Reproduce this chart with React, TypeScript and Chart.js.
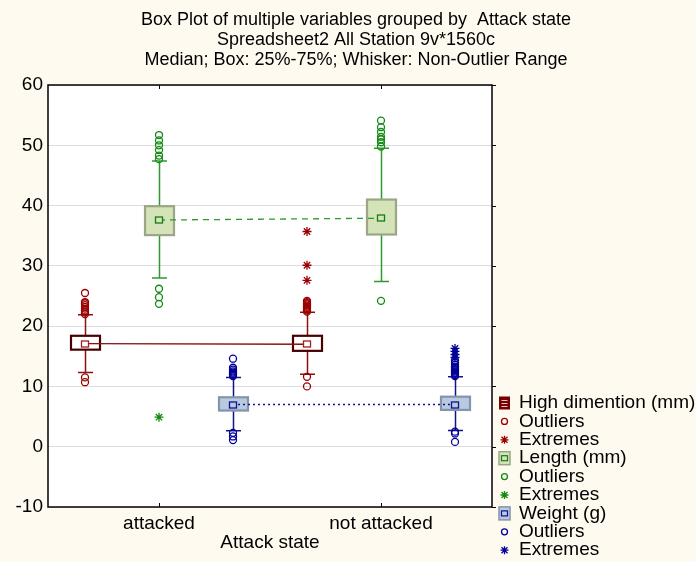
import { useEffect, useRef } from 'react';
import { Chart, registerables } from 'chart.js';

Chart.register(...registerables);

// Grouping variable
const groups = ['attacked', 'not attacked'];
const seriesNames = ['High dimention (mm)', 'Length (mm)', 'Weight (g)'];
const yTicks = [-10, 0, 10, 20, 30, 40, 50, 60];

// High dimention (mm): [attacked, not attacked]
const highMedian = [17.1, 17.0];
const highQ1 = [16.1, 15.9];
const highQ3 = [18.4, 18.4];
const highMin = [12.3, 12.0];
const highMax = [21.9, 22.3];
const highOutliers = [
  [22.0, 22.3, 22.6, 22.9, 23.2, 23.5, 23.8, 24.0, 25.5, 11.5, 10.7],
  [22.4, 22.6, 22.8, 23.0, 23.2, 23.4, 23.6, 23.8, 24.0, 24.2, 11.6, 10.0],
];
const highExtremes = [[], [35.7, 30.1, 27.6]];

// Length (mm)
const lengthMedian = [37.6, 37.9];
const lengthQ1 = [35.1, 35.2];
const lengthQ3 = [39.9, 41.0];
const lengthMin = [28.0, 27.4];
const lengthMax = [47.4, 49.5];
const lengthOutliers = [
  [47.7, 48.3, 49.2, 50.0, 50.8, 51.7, 26.2, 24.8, 23.7],
  [49.8, 50.5, 51.0, 51.4, 52.2, 53.0, 54.1, 24.2],
];
const lengthExtremes = [[4.9], []];

// Weight (g)
const weightMedian = [7.0, 7.0];
const weightQ1 = [6.0, 6.1];
const weightQ3 = [8.2, 8.3];
const weightMin = [2.65, 2.7];
const weightMax = [11.5, 11.6];
const weightOutliers = [
  [11.7, 11.9, 12.1, 12.3, 12.5, 12.8, 13.1, 14.6, 2.3, 1.7, 1.1],
  [11.7, 11.9, 12.1, 12.3, 12.5, 12.7, 12.9, 13.1, 13.3, 13.6, 13.9, 14.3, 2.5, 2.2, 0.8],
];
const weightExtremes = [[], [14.8, 15.3, 15.8, 16.3]];

const FONT = '"Liberation Sans", Arial, sans-serif';

type Style = {
  line: string;
  boxFill: string;
  boxStroke: string;
  median: string;
  point: string;
  dash: number[];
};

const styles: Style[] = [
  { line: '#8b1010', boxFill: '#ffffff', boxStroke: '#4a0000', median: '#a02020', point: '#9a0000', dash: [] },
  { line: '#2e9a2e', boxFill: '#d5e3b9', boxStroke: '#9aa686', median: '#128012', point: '#108a10', dash: [6, 5] },
  { line: '#14148a', boxFill: '#b8cae0', boxStroke: '#8394ab', median: '#101090', point: '#000098', dash: [2, 3] },
];

const stats = [
  { med: highMedian, q1: highQ1, q3: highQ3, lo: highMin, hi: highMax, out: highOutliers, ext: highExtremes },
  { med: lengthMedian, q1: lengthQ1, q3: lengthQ3, lo: lengthMin, hi: lengthMax, out: lengthOutliers, ext: lengthExtremes },
  { med: weightMedian, q1: weightQ1, q3: weightQ3, lo: weightMin, hi: weightMax, out: weightOutliers, ext: weightExtremes },
];

// each group has three slots, one per variable
const slot = (g: number, s: number) => g * 3 + s + 0.5;
const groupTicks = groups.map((_, g) => slot(g, 1));

const BOX_W = 29;
const CAP_W = 15;

const backgroundPlugin = {
  id: 'background',
  beforeDraw(chart: any) {
    const { ctx, chartArea: a } = chart;
    ctx.save();
    ctx.fillStyle = '#fffaf0';
    ctx.fillRect(0, 0, chart.width, chart.height);
    ctx.fillStyle = '#ffffff';
    ctx.fillRect(a.left, a.top, a.right - a.left, a.bottom - a.top);
    ctx.restore();
  },
};

const boxPlugin = {
  id: 'boxes',
  beforeDatasetsDraw(chart: any) {
    const { ctx } = chart;
    const xs = chart.scales.x;
    const ys = chart.scales.y;
    ctx.save();
    stats.forEach((st, s) => {
      const sty = styles[s];
      groups.forEach((_, g) => {
        const x = Math.round(xs.getPixelForValue(slot(g, s))) + 0.5;
        const yLo = ys.getPixelForValue(st.lo[g]);
        const yHi = ys.getPixelForValue(st.hi[g]);
        const y1 = ys.getPixelForValue(st.q1[g]);
        const y3 = ys.getPixelForValue(st.q3[g]);
        ctx.strokeStyle = sty.line;
        ctx.lineWidth = 1.5;
        ctx.beginPath();
        ctx.moveTo(x, yLo);
        ctx.lineTo(x, yHi);
        ctx.moveTo(x - CAP_W / 2, yLo);
        ctx.lineTo(x + CAP_W / 2, yLo);
        ctx.moveTo(x - CAP_W / 2, yHi);
        ctx.lineTo(x + CAP_W / 2, yHi);
        ctx.stroke();
        ctx.fillStyle = sty.boxFill;
        ctx.fillRect(x - BOX_W / 2, y3, BOX_W, y1 - y3);
        ctx.strokeStyle = sty.boxStroke;
        ctx.lineWidth = 2.2;
        ctx.strokeRect(x - BOX_W / 2, y3, BOX_W, y1 - y3);
      });
    });
    ctx.restore();
  },
  afterDatasetsDraw(chart: any) {
    const { ctx } = chart;
    const xs = chart.scales.x;
    const ys = chart.scales.y;
    ctx.save();
    stats.forEach((st, s) => {
      const sty = styles[s];
      groups.forEach((_, g) => {
        const x = Math.round(xs.getPixelForValue(slot(g, s)));
        const ym = Math.round(ys.getPixelForValue(st.med[g]));
        ctx.fillStyle = sty.boxFill;
        ctx.fillRect(x - 3.5, ym - 3, 7, 6);
        ctx.strokeStyle = sty.median;
        ctx.lineWidth = 1.3;
        ctx.strokeRect(x - 3.5, ym - 3, 7, 6);
      });
    });
    ctx.restore();
  },
};

const framePlugin = {
  id: 'frame',
  afterDraw(chart: any) {
    const { ctx, chartArea: a } = chart;
    const xs = chart.scales.x;
    const ys = chart.scales.y;
    ctx.save();
    ctx.strokeStyle = '#000000';
    ctx.lineWidth = 1.5;
    ctx.strokeRect(a.left, a.top, a.right - a.left, a.bottom - a.top);
    ctx.lineWidth = 1;
    ctx.beginPath();
    yTicks.forEach((v) => {
      const y = Math.round(ys.getPixelForValue(v)) + 0.5;
      ctx.moveTo(a.right, y);
      ctx.lineTo(a.right + 4, y);
    });
    groupTicks.forEach((v) => {
      const x = Math.round(xs.getPixelForValue(v)) + 0.5;
      ctx.moveTo(x, a.top);
      ctx.lineTo(x, a.top + 4);
      ctx.moveTo(x, a.bottom);
      ctx.lineTo(x, a.bottom - 4);
    });
    ctx.stroke();

    // title
    const titleLines = [
      'Box Plot of multiple variables grouped by  Attack state',
      'Spreadsheet2 All Station 9v*1560c',
      'Median; Box: 25%-75%; Whisker: Non-Outlier Range',
    ];
    ctx.fillStyle = '#000000';
    ctx.font = `18px ${FONT}`;
    ctx.textAlign = 'center';
    ctx.textBaseline = 'alphabetic';
    titleLines.forEach((t, i) => ctx.fillText(t, 356, 25 + i * 20));

    // legend
    const lx = 499;
    const tx = 519;
    const rowY = (i: number) => 403 + i * 18.4;
    ctx.font = `19px ${FONT}`;
    ctx.textAlign = 'left';
    ctx.textBaseline = 'middle';
    styles.forEach((sty, s) => {
      const base = s * 3;
      // box symbol
      const y0 = rowY(base);
      if (s === 0) {
        ctx.fillStyle = '#7a0000';
        ctx.fillRect(lx, y0 - 6.5, 11, 13);
        ctx.strokeStyle = '#e8c8c8';
        ctx.lineWidth = 1;
        ctx.beginPath();
        [-3, 0, 3].forEach((d) => {
          ctx.moveTo(lx + 2.5, y0 + d + 0.5);
          ctx.lineTo(lx + 8.5, y0 + d + 0.5);
        });
        ctx.stroke();
      } else {
        ctx.fillStyle = sty.boxFill;
        ctx.fillRect(lx, y0 - 6.5, 11, 13);
        ctx.strokeStyle = sty.boxStroke;
        ctx.lineWidth = 1.5;
        ctx.strokeRect(lx, y0 - 6.5, 11, 13);
        ctx.strokeStyle = sty.median;
        ctx.lineWidth = 1.2;
        ctx.strokeRect(lx + 2.5, y0 - 2.5, 6, 5);
      }
      // outlier symbol
      const y1 = rowY(base + 1);
      ctx.strokeStyle = sty.point;
      ctx.lineWidth = 1.3;
      ctx.beginPath();
      ctx.arc(lx + 5.5, y1, 3, 0, Math.PI * 2);
      ctx.stroke();
      // extreme symbol
      const y2 = rowY(base + 2);
      const cx = lx + 5.5;
      ctx.beginPath();
      ctx.moveTo(cx - 4, y2);
      ctx.lineTo(cx + 4, y2);
      ctx.moveTo(cx, y2 - 4);
      ctx.lineTo(cx, y2 + 4);
      ctx.moveTo(cx - 3, y2 - 3);
      ctx.lineTo(cx + 3, y2 + 3);
      ctx.moveTo(cx - 3, y2 + 3);
      ctx.lineTo(cx + 3, y2 - 3);
      ctx.stroke();

      ctx.fillStyle = '#000000';
      ctx.fillText(seriesNames[s], tx, y0);
      ctx.fillText('Outliers', tx, y1);
      ctx.fillText('Extremes', tx, y2);
    });
    ctx.restore();
  },
};

export default function App() {
  const canvasRef = useRef<HTMLCanvasElement | null>(null);

  useEffect(() => {
    if (!canvasRef.current) return;
    const datasets: any[] = [];
    stats.forEach((st, s) => {
      const sty = styles[s];
      datasets.push({
        label: seriesNames[s],
        data: groups.map((_, g) => ({ x: slot(g, s), y: st.med[g] })),
        showLine: true,
        borderColor: sty.line,
        borderWidth: 1.3,
        borderDash: sty.dash,
        pointRadius: 0,
        order: 3,
      });
      datasets.push({
        label: 'Outliers',
        data: groups.flatMap((_, g) => st.out[g].map((v) => ({ x: slot(g, s), y: v }))),
        pointStyle: 'circle',
        pointRadius: 3.5,
        borderColor: sty.point,
        backgroundColor: 'rgba(255,255,255,0)',
        borderWidth: 1.3,
        order: 2,
      });
      datasets.push({
        label: 'Extremes',
        data: groups.flatMap((_, g) => st.ext[g].map((v) => ({ x: slot(g, s), y: v }))),
        pointStyle: 'star',
        pointRadius: 4.5,
        borderColor: sty.point,
        backgroundColor: sty.point,
        borderWidth: 1.3,
        order: 1,
      });
    });

    const chart = new Chart(canvasRef.current, {
      type: 'scatter',
      data: { datasets },
      plugins: [backgroundPlugin, boxPlugin, framePlugin],
      options: {
        animation: false,
        responsive: false,
        maintainAspectRatio: false,
        layout: { padding: { top: 85, right: 204, left: 0, bottom: 0 } },
        plugins: {
          legend: { display: false },
          title: { display: false },
          tooltip: { enabled: false },
        },
        scales: {
          x: {
            type: 'linear',
            min: 0,
            max: 6,
            afterBuildTicks: (scale: any) => {
              scale.ticks = groupTicks.map((v) => ({ value: v }));
            },
            afterFit: (scale: any) => {
              scale.height = 55;
            },
            ticks: {
              callback: (_v: any, i: number) => groups[i],
              font: { family: FONT, size: 19 },
              color: '#000000',
              padding: 5,
              maxRotation: 0,
              autoSkip: false,
            },
            grid: { display: false, drawTicks: false },
            border: { display: false },
            title: {
              display: true,
              text: 'Attack state',
              font: { family: FONT, size: 19 },
              color: '#000000',
              padding: { top: 0, bottom: 8 },
            },
          },
          y: {
            min: -10,
            max: 60,
            afterBuildTicks: (scale: any) => {
              scale.ticks = yTicks.map((v) => ({ value: v }));
            },
            afterFit: (scale: any) => {
              scale.width = 48;
            },
            ticks: {
              font: { family: FONT, size: 19 },
              color: '#000000',
              padding: 5,
            },
            grid: { color: '#dddddd', drawTicks: false },
            border: { display: false },
          },
        },
      },
    });
    return () => chart.destroy();
  }, []);

  return (
    <div style={{ position: 'absolute', left: 0, top: 0, width: 696, height: 562 }}>
      <canvas ref={canvasRef} width={696} height={562} style={{ display: 'block', width: 696, height: 562 }} />
    </div>
  );
}
